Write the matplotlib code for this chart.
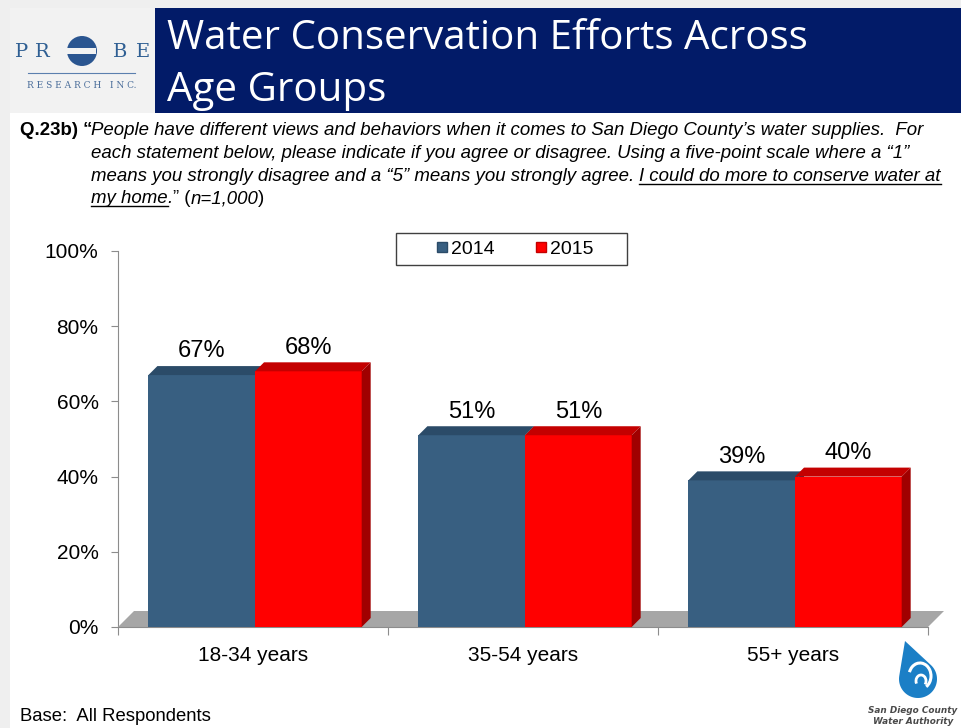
import matplotlib
matplotlib.use("Agg")
import matplotlib.pyplot as plt
import numpy as np
from matplotlib.patches import Rectangle, Polygon, Circle, Arc
from matplotlib.transforms import Affine2D
from matplotlib.lines import Line2D

# ---------------- data ----------------
categories = ["18-34 years", "35-54 years", "55+ years"]
series_names = ["2014", "2015"]
values_2014 = [67, 51, 39]
values_2015 = [68, 51, 40]
y_ticks = [0, 20, 40, 60, 80, 100]
y_tick_labels = ["0%", "20%", "40%", "60%", "80%", "100%"]

W, H = 961, 728
fig = plt.figure(figsize=(W / 100, H / 100), dpi=100)
fig.patch.set_facecolor("white")
# pixel transform (y down)
PX = Affine2D().scale(1 / W, -1 / H).translate(0, 1) + fig.transFigure

# ---------------- background frame ----------------
fig.add_artist(Rectangle((0, 0), W, 8, transform=PX, color="#efefef", lw=0, zorder=0))
fig.add_artist(Rectangle((0, 0), 10, H, transform=PX, color="#efefef", lw=0, zorder=0))
fig.add_artist(Rectangle((10, 8), 145, 105, transform=PX, color="#f2f2f2", lw=0, zorder=0))
fig.add_artist(Rectangle((155, 8), W - 155, 105, transform=PX, color="#021b68", lw=0, zorder=0))

# Title
title_font = dict(family="Open Sans", color="white", fontsize=29)
fig.text(167, 49, "Water Conservation Efforts Across", transform=PX, va="baseline", ha="left", **title_font)
fig.text(167, 101, "Age Groups", transform=PX, va="baseline", ha="left", **title_font)

# PROBE logo
logo_blue = "#2f5f93"
for letter, lx in (("P", 15), ("R", 35), ("B", 113), ("E", 136)):
    fig.text(lx, 57, letter, transform=PX, va="baseline", ha="left", family="DejaVu Serif",
             fontsize=14, color=logo_blue)
fig.add_artist(Circle((82, 51), 15, transform=PX, color="#2a5590", lw=0))
fig.add_artist(Rectangle((64, 47.5), 32, 6, transform=PX, color="#f2f2f2", lw=0))
fig.add_artist(Line2D([28, 135], [73, 73], transform=PX, color="#5b7fae", lw=0.8))
fig.text(82, 88, "R E S E A R C H   I N C.", transform=PX, va="baseline", ha="center",
         family="DejaVu Serif", fontsize=6.5, color="#4a6d9a")

# ---------------- question text ----------------
renderer = fig.canvas.get_renderer()
qsize = 13.4
base_kw = dict(family=["Liberation Sans", "DejaVu Sans"], fontsize=qsize, color="black")


def seg_width(s, **kw):
    t = fig.text(0, 0, s, **kw)
    w = t.get_window_extent(renderer).width
    t.remove()
    return w


space_w = seg_width("a a", style="italic", **base_kw) - seg_width("aa", style="italic", **base_kw)


def draw_line(x, y, segments):
    for s, style, weight, ul, gap in segments:
        x += gap * space_w
        t = fig.text(x, y, s, transform=PX, va="baseline", ha="left",
                     style=style, weight=weight, **base_kw)
        bb = t.get_window_extent(renderer)
        w = bb.width
        if ul:
            fig.add_artist(Line2D([x, x + w], [y + 2.5, y + 2.5], transform=PX,
                                  color="black", lw=1.0))
        x += w


fig.text(20, 135, "Q.23b) “", transform=PX, va="baseline", ha="left", weight="bold", **base_kw)
draw_line(91, 135, [("People have different views and behaviors when it comes to San Diego County’s water supplies.  For",
                     "italic", "normal", False, 0)])
draw_line(91, 158, [("each statement below, please indicate if you agree or disagree. Using a five-point scale where a “1”",
                     "italic", "normal", False, 0)])
draw_line(91, 181, [("means you strongly disagree and a “5” means you strongly agree.", "italic", "normal", False, 0),
                    ("I could do more to conserve water at", "italic", "normal", True, 1)])
draw_line(91, 203, [("my home", "italic", "normal", True, 0),
                    (".", "italic", "normal", False, 0),
                    ("” (", "normal", "normal", False, 0),
                    ("n=1,000", "italic", "normal", False, 0),
                    (")", "normal", "normal", False, 0)])

# ---------------- chart ----------------
ax_l, ax_r, ax_t, ax_b = 118, 928, 251, 627
ax = fig.add_axes([ax_l / W, 1 - ax_b / H, (ax_r - ax_l) / W, (ax_b - ax_t) / H])
ax.set_facecolor("none")
ax.set_xlim(-0.5, len(categories) - 0.5)
ax.set_ylim(0, 100)
px_x = (ax_r - ax_l) / len(categories)  # pixels per x unit
px_y = (ax_b - ax_t) / 100.0            # pixels per y unit

x = np.arange(len(categories))
bw = 0.395
blue_front, blue_top, blue_side = "#385f81", "#2b4b68", "#22405c"
red_front, red_top, red_side = "#ff0000", "#c40000", "#a00000"

# floor
fd = 16
floor = Polygon([(-0.5, 0), (len(categories) - 0.5, 0),
                 (len(categories) - 0.5 + fd / px_x, fd / px_y), (-0.5 + fd / px_x, fd / px_y)],
                closed=True, facecolor="#a6a6a6", edgecolor="none", clip_on=False, zorder=1)
ax.add_patch(floor)

d = 9
ddx, ddy = d / px_x, d / px_y


def bars3d(xpos, vals, front, top, side):
    rects = ax.bar(xpos, vals, width=bw, color=front, zorder=3, linewidth=0)
    for r in rects:
        x0, x1, h = r.get_x(), r.get_x() + r.get_width(), r.get_height()
        ax.add_patch(Polygon([(x0, h), (x1, h), (x1 + ddx, h + ddy), (x0 + ddx, h + ddy)],
                             closed=True, facecolor=top, edgecolor="none", zorder=3, clip_on=False))
        ax.add_patch(Polygon([(x1, 0), (x1, h), (x1 + ddx, h + ddy), (x1 + ddx, ddy)],
                             closed=True, facecolor=side, edgecolor="none", zorder=3, clip_on=False))
    return rects


r14 = bars3d(x - 0.19, values_2014, blue_front, blue_top, blue_side)
r15 = bars3d(x + 0.205, values_2015, red_front, red_top, red_side)

for rects, vals in ((r14, values_2014), (r15, values_2015)):
    for r, v in zip(rects, vals):
        ax.annotate(f"{v}%", (r.get_x() + r.get_width() / 2, v), xytext=(0, 17),
                    textcoords="offset points", ha="center", va="center",
                    fontsize=17, family="Liberation Sans", color="black", zorder=5)

# axes styling
for s in ("top", "right"):
    ax.spines[s].set_visible(False)
ax.spines["left"].set_color("#8c8c8c")
ax.spines["bottom"].set_color("#8c8c8c")
ax.spines["left"].set_zorder(0.5)
ax.set_yticks(y_ticks)
ax.set_yticklabels(y_tick_labels, family="Liberation Sans", fontsize=15)
ax.tick_params(axis="y", length=5, color="#8c8c8c", pad=9)
ax.set_xticks(np.arange(len(categories) + 1) - 0.5)
ax.set_xticklabels([])
ax.set_xticks(x, minor=True)
ax.set_xticklabels(categories, minor=True, family="Liberation Sans", fontsize=15)
ax.tick_params(axis="x", which="major", length=6, color="#8c8c8c")
ax.tick_params(axis="x", which="minor", length=0, pad=14)

# legend
fig.add_artist(Rectangle((396, 233), 231, 32, transform=PX, facecolor="white",
                         edgecolor="#404040", lw=1.0, zorder=4))
handles = [Line2D([], [], marker="s", ls="none", markersize=7, markerfacecolor=blue_front,
                  markeredgecolor=blue_top),
           Line2D([], [], marker="s", ls="none", markersize=7, markerfacecolor=red_front,
                  markeredgecolor=red_top)]
leg = fig.legend(handles, series_names, loc="center", bbox_to_anchor=(515 / W, 1 - 249 / H),
                 ncol=2, frameon=False, prop=dict(family="Liberation Sans", size=14),
                 handlelength=0.6, handletextpad=0.15, columnspacing=2.1, borderpad=0)
leg.set_zorder(5)

# base note
fig.text(20, 721, "Base:  All Respondents", transform=PX, va="baseline", ha="left",
         family="Liberation Sans", fontsize=13.3, color="black")

# San Diego County Water Authority logo
cx, cy, rr = 918, 679, 19
tip = np.array([905.0, 641.0])
c = np.array([cx, cy], dtype=float)
v = tip - c
dist = np.hypot(*v)
base_ang = np.arctan2(v[1], v[0])
off = np.arccos(rr / dist)
angs = np.linspace(base_ang + off, base_ang + 2 * np.pi - off, 60)
pts = [tuple(tip)] + [(cx + rr * np.cos(a), cy + rr * np.sin(a)) for a in angs]
fig.add_artist(Polygon(pts, closed=True, transform=PX, facecolor="#1b7fc6", edgecolor="none"))
fig.add_artist(Arc((920, 676), 22, 26, angle=0, theta1=200, theta2=420, transform=PX,
                   color="white", lw=2.2))
fig.add_artist(Arc((921, 681), 10, 12, angle=0, theta1=150, theta2=400, transform=PX,
                   color="white", lw=2.0))
fig.text(913, 713, "San Diego County", transform=PX, va="baseline", ha="center",
         family="DejaVu Sans", weight="bold", style="italic", fontsize=6.4, color="#4a4a4a")
fig.text(913, 724, "Water Authority", transform=PX, va="baseline", ha="center",
         family="DejaVu Sans", weight="bold", style="italic", fontsize=6.4, color="#4a4a4a")

fig.savefig("out.png", dpi=100)
